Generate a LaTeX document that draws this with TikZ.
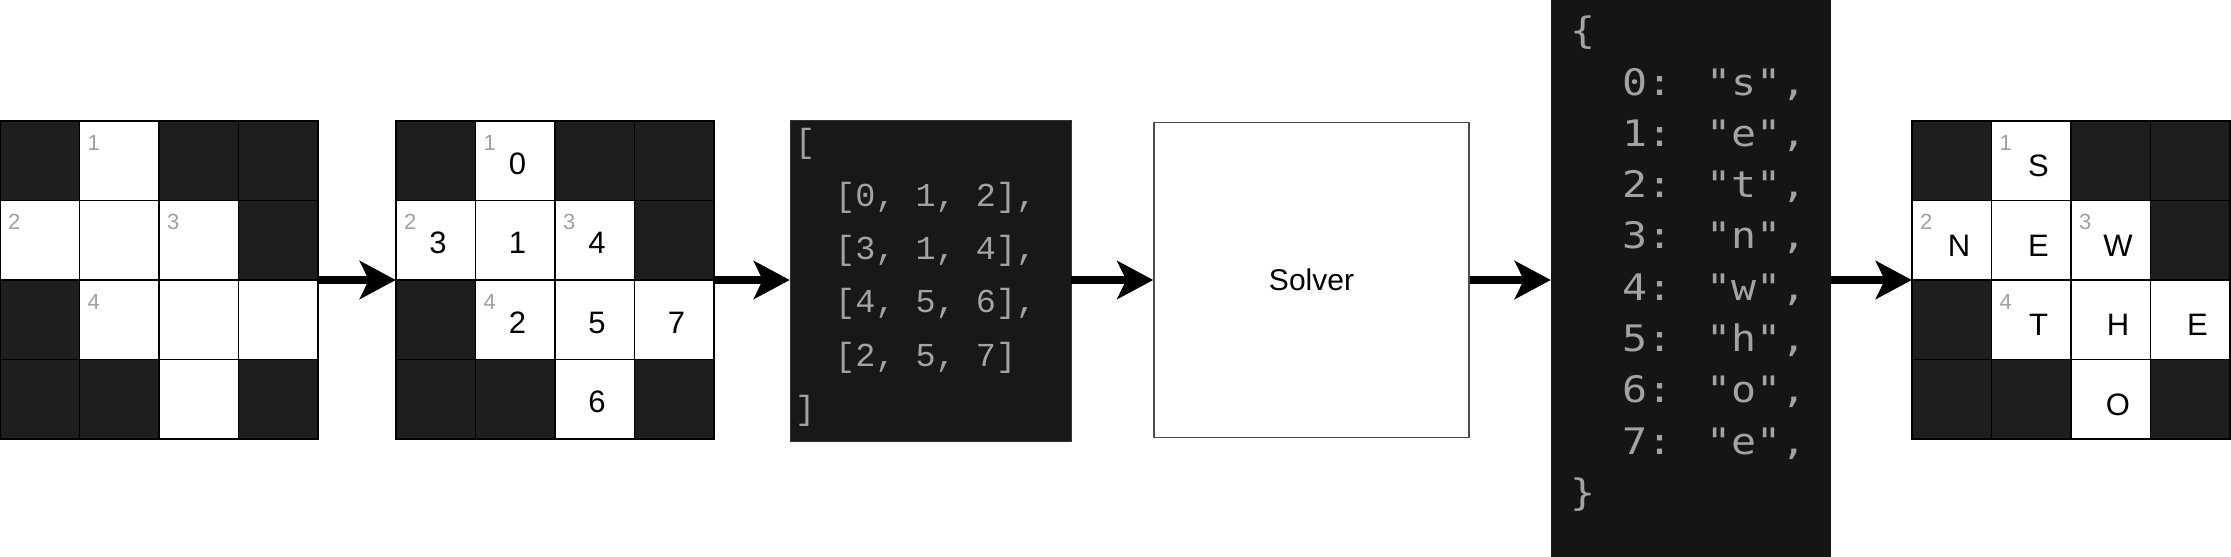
\documentclass[tikz,border=0pt]{standalone}
\usepackage{fontspec}
\setmainfont{Liberation Sans}
\newfontfamily\listfont{Liberation Mono}
\newfontfamily\dictfont[FakeStretch=1.14]{DejaVu Sans Mono}
\usetikzlibrary{arrows.meta}
\definecolor{cellblack}{HTML}{1E1E1E}
\definecolor{codebg}{HTML}{181818}
\definecolor{dictbg}{HTML}{151515}
\definecolor{codetext}{HTML}{A3A3A3}
\definecolor{cluegrey}{HTML}{A0A0A0}

\begin{document}
\begin{tikzpicture}[x=1pt, y=-1pt,
        gridbox/.style={minimum size=318pt, inner sep=0pt},
        cell/.style={draw=black, fill=white, line width=1.5pt},
        blackcell/.style={draw=black, fill=cellblack, line width=1.5pt},
        clue/.style={anchor=base west, inner sep=0pt, text=cluegrey, font=\fontsize{22}{22}\selectfont},
        entry/.style={anchor=base, inner sep=0pt, font=\fontsize{31}{31}\selectfont},
        codetxt/.style={anchor=base west, inner sep=0pt, text=codetext},
        flow/.style={line width=8pt, -{Stealth[length=36pt, width=38pt, inset=9pt]}}]

    \useasboundingbox (0,0) rectangle (2231,557);

    % the three crossword grids
    \foreach \gx/\g in {0/gridA, 396/gridB, 1912/gridC} {
        \node[gridbox] (\g) at (\gx+159, 280) {};
        \foreach \c in {0,...,3}
            \foreach \r in {0,...,3}
                \draw[cell] (\gx+79.5*\c, 121+79.5*\r) rectangle ++(79.5, 79.5);
        \foreach \c/\r in {0/0, 2/0, 3/0, 3/1, 0/2, 0/3, 1/3, 3/3}
            \draw[blackcell] (\gx+79.5*\c, 121+79.5*\r) rectangle ++(79.5, 79.5);
        \foreach \c/\r/\k in {1/0/1, 0/1/2, 2/1/3, 1/2/4}
            \node[clue] (\g-k\k) at (\gx+79.5*\c+8, 121+79.5*\r+29) {\k};
    }

    % cell indices
    \foreach \c/\r/\v in {1/0/0, 0/1/3, 1/1/1, 2/1/4, 1/2/2, 2/2/5, 3/2/7, 2/3/6}
        \node[entry] (gridB-\c\r) at (396+79.5*\c+42, 121+79.5*\r+53) {\v};

    % solved letters
    \foreach \c/\r/\v in {1/0/S, 0/1/N, 1/1/E, 2/1/W, 1/2/T, 2/2/H, 3/2/E, 2/3/O}
        \node[entry] (gridC-\c\r) at (1912+79.5*\c+47, 121+79.5*\r+55.5) {\v};

    % slot list
    \node[fill=codebg, draw=black!80, minimum width=281pt, minimum height=321pt, inner sep=0pt] (slots) at (930.5, 280.5) {};
    \foreach \ln/\ind [count=\i from 0] in {{[}/0, {[0, 1, 2],}/40, {[3, 1, 4],}/40, {[4, 5, 6],}/40, {[2, 5, 7]}/40, {]}/0}
        \node[codetxt, font=\listfont\fontsize{33.5}{33.5}\selectfont] (slot\i) at (795+\ind, 152.6+53.4*\i) {\ln};

    \node[draw=black!70, line width=1.5pt, fill=white, minimum width=315pt, minimum height=315pt, inner sep=0pt] (solver) at (1311.5, 280) {\fontsize{30}{30}\selectfont Solver};

    % assignment
    \node[fill=dictbg, minimum width=280pt, minimum height=557pt, inner sep=0pt] (answer) at (1691, 278.5) {};
    \foreach \ln/\ind [count=\i from 0] in {{\{}/0, {0: "s",}/52, {1: "e",}/52, {2: "t",}/52, {3: "n",}/52, {4: "w",}/52, {5: "h",}/52, {6: "o",}/52, {7: "e",}/52, {\}}/0}
        \node[codetxt, font=\dictfont\fontsize{36.5}{36.5}\selectfont] (ans\i) at (1570.5+\ind, 43.7+51.3*\i) {\ln};

    \draw[flow] (gridA.east) -- (gridB.west);
    \draw[flow] (gridB.east) -- (slots.west |- gridB.east);
    \draw[flow] (slots.east |- gridB.east) -- (solver.west);
    \draw[flow] (solver.east) -- (answer.west |- solver.east);
    \draw[flow] (answer.east |- solver.east) -- (gridC.west);
\end{tikzpicture}
\end{document}
